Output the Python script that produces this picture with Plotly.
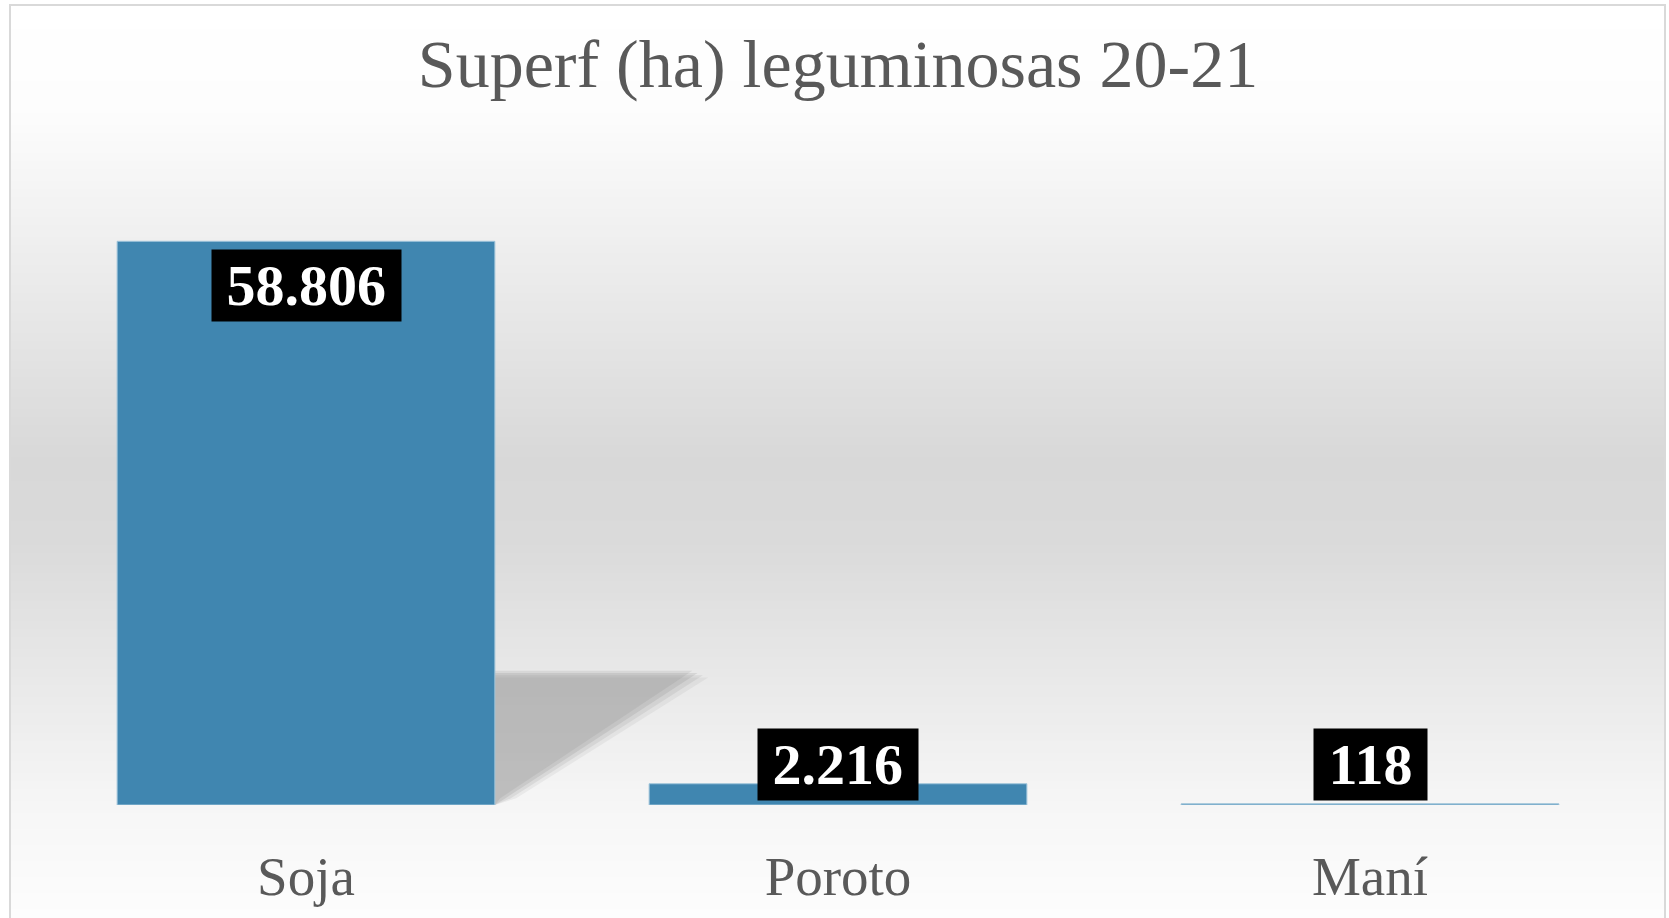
import plotly.graph_objects as go

# ---- data ----
categories = ["Soja", "Poroto", "Maní"]
values = [58806, 2216, 118]
value_labels = ["58.806", "2.216", "118"]
title_text = "Superf (ha) leguminosas 20-21"

W, H = 1669, 918
M_L, M_R, M_T, M_B = 40, 33, 134, 113
Y_MAX = 70000

fig = go.Figure()
fig.add_trace(go.Bar(
    x=categories, y=values,
    marker=dict(color="#4086b0", line=dict(color="#9fc4da", width=1)),
    hoverinfo="x+y", showlegend=False,
))

plot_h = H - M_T - M_B
pw = W - M_L - M_R
def py2paper(py):
    return (H - M_B - py) / plot_h
def px2paper(px):
    return (px - M_L) / pw

stops = [(0, 255), (110, 253), (250, 238), (460, 216), (540, 218), (700, 235), (805, 246), (918, 253)]
def gray_at(py):
    for (a, ga), (b, gb) in zip(stops[:-1], stops[1:]):
        if a <= py <= b:
            t = (py - a) / (b - a)
            return ga + (gb - ga) * t
    return stops[-1][1]

shapes = []
step = 4
for py in range(5, H, step):
    g = int(round(gray_at(py + step / 2)))
    shapes.append(dict(type="rect", xref="paper", yref="paper",
                       x0=px2paper(10), x1=px2paper(1665),
                       y0=py2paper(py + step + 1), y1=py2paper(py),
                       fillcolor=f"rgb({g},{g},{g})", line=dict(width=0), layer="below"))
# chart border
shapes.append(dict(type="rect", xref="paper", yref="paper",
                   x0=px2paper(10), x1=px2paper(1665),
                   y0=py2paper(H + 5), y1=py2paper(5),
                   fillcolor="rgba(0,0,0,0)", line=dict(color="#d9d9d9", width=2), layer="below"))

# soft shadow behind first bar (layered for a blurred look)
v0 = values[0]
for d, op in [(0.02, 0.10), (0.01, 0.14), (0.0, 0.18), (-0.01, 0.16)]:
    top = (0.234 - d * 0.4) * v0
    shapes.append(dict(type="path", xref="x", yref="y",
                       path=f"M 0.355,0 L 0.355,{top} L {0.736 + d},{top} L {0.375 + d},{0.012*v0} Z",
                       fillcolor=f"rgba(130,130,130,{op})", line=dict(width=0), layer="below"))

annotations = []
lab_font = dict(family="Liberation Serif", size=58, color="white")
pad = "\u2009"
for c, v, lab in zip(categories, values, value_labels):
    txt = f"<b>{pad}{lab}{pad}</b>"
    if v > 0.3 * max(values):
        annotations.append(dict(x=c, y=v, xref="x", yref="y", text=txt,
                                showarrow=False, yanchor="top", yshift=-8,
                                bgcolor="black", borderpad=3, font=lab_font))
    else:
        annotations.append(dict(x=c, y=0, xref="x", yref="y", text=txt,
                                showarrow=False, yanchor="bottom", yshift=4,
                                bgcolor="black", borderpad=3, font=lab_font))

fig.update_layout(
    width=W, height=H,
    margin=dict(l=M_L, r=M_R, t=M_T, b=M_B),
    paper_bgcolor="white", plot_bgcolor="rgba(0,0,0,0)",
    title=dict(text=title_text, x=0.5, xref="paper", xanchor="center",
               y=1 - 63 / H, yref="container", yanchor="middle",
               font=dict(family="Liberation Serif", size=68, color="#595959")),
    bargap=0.29,
    xaxis=dict(showgrid=False, showline=False, zeroline=False, ticks="",
               tickfont=dict(family="Liberation Serif", size=55, color="#595959"),
               ticklabelstandoff=34),
    yaxis=dict(range=[0, Y_MAX], visible=False, showgrid=False),
    shapes=shapes, annotations=annotations,
)

fig.write_html("out.html", config={"displayModeBar": False},
               post_script="document.body.style.margin='0';document.body.style.padding='0';document.body.style.overflow='hidden';")
